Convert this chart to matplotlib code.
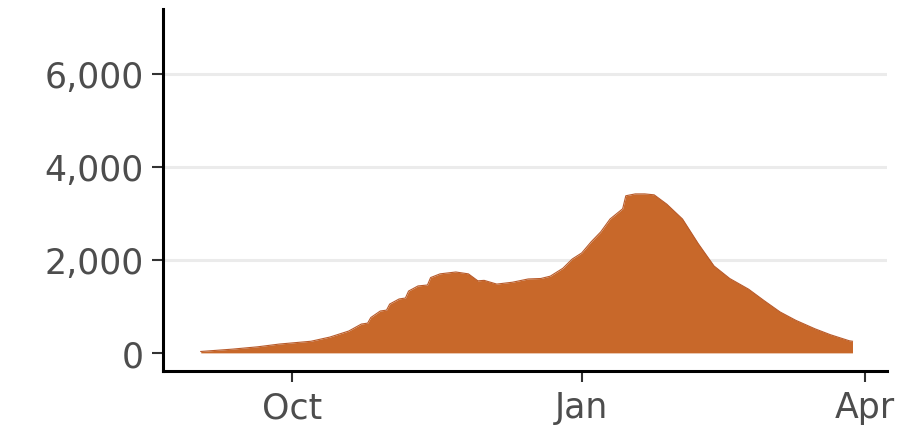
import matplotlib
matplotlib.use("Agg")
import matplotlib.pyplot as plt
import matplotlib.dates as mdates
import numpy as np
import pandas as pd

# daily-ish readings (7-day average of new cases)
dates = pd.to_datetime([
    "2020-09-02", "2020-09-12", "2020-09-20", "2020-09-27", "2020-10-07",
    "2020-10-13", "2020-10-19", "2020-10-23", "2020-10-25", "2020-10-26",
    "2020-10-29", "2020-10-31", "2020-11-01", "2020-11-04", "2020-11-06",
    "2020-11-07", "2020-11-10", "2020-11-13", "2020-11-14", "2020-11-17",
    "2020-11-22", "2020-11-26", "2020-11-29", "2020-12-01", "2020-12-05",
    "2020-12-10", "2020-12-15", "2020-12-19", "2020-12-22", "2020-12-26",
    "2020-12-29", "2021-01-01", "2021-01-04", "2021-01-07", "2021-01-10",
    "2021-01-14", "2021-01-15", "2021-01-18", "2021-01-21", "2021-01-24",
    "2021-01-28", "2021-02-02", "2021-02-07", "2021-02-12", "2021-02-17",
    "2021-02-23", "2021-02-28", "2021-03-05", "2021-03-10", "2021-03-16",
    "2021-03-21", "2021-03-27", "2021-03-28",
])
cases = [
    30, 80, 130, 190, 250,
    340, 470, 620, 640, 760,
    900, 920, 1050, 1160, 1180,
    1330, 1440, 1460, 1620, 1700,
    1740, 1700, 1550, 1560, 1480,
    1520, 1590, 1600, 1650, 1820,
    2020, 2150, 2390, 2600, 2880,
    3100, 3380, 3420, 3420, 3400,
    3200, 2880, 2350, 1870, 1600,
    1370, 1120, 880, 700, 520,
    390, 260, 250,
]

y_ticks = [0, 2000, 4000, 6000]
x_ticks = pd.to_datetime(["2020-10-01", "2021-01-01", "2021-04-01"])
x_labels = ["Oct", "Jan", "Apr"]

fig = plt.figure(figsize=(8.97, 4.27), dpi=100)
ax = fig.add_axes([0.1817, 0.1288, 0.8073, 0.848])

ax.fill_between(dates, 0, cases, color="#C8682A", linewidth=0)
ax.plot(dates, cases, color="#B85A2A", linewidth=0.8)

ax.set_ylim(-390, 7400)
ax.set_xlim(pd.Timestamp("2020-08-21"), pd.Timestamp("2021-04-08"))

ax.set_yticks(y_ticks)
ax.set_yticklabels([f"{v:,}" for v in y_ticks])
ax.set_xticks(x_ticks)
ax.set_xticklabels(x_labels)

for v in y_ticks[1:]:
    ax.axhline(v, color="#EBEBEB", linewidth=2.2, zorder=0)

for side in ["top", "right"]:
    ax.spines[side].set_visible(False)
for side in ["left", "bottom"]:
    ax.spines[side].set_linewidth(2.2)
    ax.spines[side].set_color("black")

ax.tick_params(axis="both", labelsize=25, colors="#4D4D4D", length=8,
               width=1.5, pad=6)
ax.tick_params(axis="both", color="#333333")

fig.savefig("out.png", dpi=100)
